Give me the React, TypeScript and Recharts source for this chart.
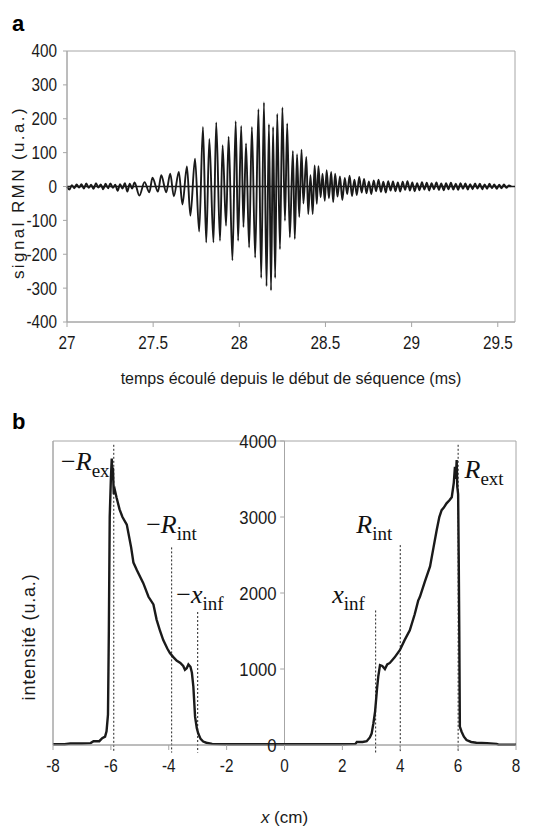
import React from 'react';
import { LineChart, Line, XAxis, YAxis, ReferenceLine, ReferenceArea, ReferenceDot } from 'recharts';

// panel a: NMR echo signal
const echoTime = [
  27.0, 27.014, 27.028, 27.042, 27.056, 27.07, 27.084, 27.098, 27.112, 27.126,
  27.14, 27.154, 27.168, 27.182, 27.196, 27.21, 27.224, 27.238, 27.252, 27.266,
  27.28, 27.294, 27.308, 27.322, 27.336, 27.35, 27.364, 27.378, 27.392, 27.42,
  27.45, 27.478, 27.496, 27.528, 27.547, 27.576, 27.599, 27.62, 27.649, 27.67,
  27.696, 27.716, 27.743, 27.767, 27.789, 27.808, 27.826, 27.85, 27.866, 27.888,
  27.903, 27.923, 27.938, 27.96, 27.979, 27.993, 28.011, 28.024, 28.039, 28.057,
  28.073, 28.092, 28.111, 28.127, 28.143, 28.158, 28.172, 28.184, 28.196, 28.208,
  28.22, 28.236, 28.25, 28.265, 28.278, 28.293, 28.311, 28.322, 28.335, 28.348,
  28.361, 28.372, 28.389, 28.4, 28.413, 28.426, 28.437, 28.45, 28.459, 28.472,
  28.483, 28.496, 28.507, 28.52, 28.533, 28.545, 28.556, 28.57, 28.584, 28.598,
  28.612, 28.626, 28.64, 28.654, 28.668, 28.682, 28.696, 28.71, 28.724, 28.738,
  28.752, 28.766, 28.78, 28.794, 28.808, 28.822, 28.836, 28.85, 28.864, 28.878,
  28.892, 28.906, 28.92, 28.934, 28.948, 28.962, 28.976, 28.99, 29.004, 29.018,
  29.032, 29.046, 29.06, 29.074, 29.088, 29.102, 29.116, 29.13, 29.144, 29.158,
  29.172, 29.186, 29.2, 29.214, 29.228, 29.242, 29.256, 29.27, 29.284, 29.298,
  29.312, 29.326, 29.34, 29.354, 29.368, 29.382, 29.396, 29.41, 29.424, 29.438,
  29.452, 29.466, 29.48, 29.494, 29.508, 29.522, 29.536, 29.55, 29.564, 29.578,
];
const echoSignal = [
  0, -9, 4, -5, 6, -3, 7, -6, 9, -4,
  5, -7, 10, -3, 6, -8, 8, -5, 9, -4,
  5, -13, 7, -6, 10, -15, 8, -6, 12, -27,
  13, -17, 26, -15, 33, -17, 38, -29, 43, -53,
  59, -86, 82, -133, 176, -165, 140, -165, 189, -160,
  122, -116, 147, -218, 193, -160, 179, -120, 127, -180,
  176, -210, 228, -270, 248, -294, 184, -307, 176, -270,
  214, -185, 233, -101, 186, -150, 105, -155, 95, -90,
  109, -50, 87, -81, 33, -81, 62, -51, 60, -32,
  38, -42, 48, -35, 43, -46, 38, -30, 30, -40,
  25, -22, 32, -28, 20, -25, 28, -18, 22, -20,
  15, -22, 18, -14, 20, -16, 14, -18, 16, -12,
  15, -14, 12, -15, 14, -10, 16, -12, 12, -14,
  10, -11, 13, -9, 11, -12, 10, -8, 12, -10,
  9, -11, 10, -8, 11, -9, 8, -10, 10, -7,
  9, -9, 7, -8, 9, -6, 8, -8, 6, -7,
  8, -5, 6, -7, 5, -5, 6, -4, 3, 0,
];
const echoTicksX = [27, 27.5, 28, 28.5, 29, 29.5];
const echoTicksY = [-400, -300, -200, -100, 0, 100, 200, 300, 400];

// panel b: intensity profile
const profileX = [
  -8, -7.6, -7.4, -7, -6.7, -6.6, -6.4, -6.3, -6.2, -6.15,
  -6.1, -6.07, -6.04, -6, -5.97, -5.95, -5.93, -5.9, -5.86, -5.8,
  -5.7, -5.6, -5.45, -5.3, -5.22, -5.1, -4.88, -4.7, -4.53, -4.42,
  -4.3, -4.19, -4.05, -3.96, -3.85, -3.73, -3.6, -3.5, -3.44, -3.38,
  -3.32, -3.25, -3.2, -3.15, -3.09, -3.03, -2.98, -2.9, -2.81, -2.7,
  -2.5, -2, -1, 0, 1, 2, 2.45, 2.5, 2.7, 2.84,
  2.95, 3.01, 3.07, 3.13, 3.2, 3.24, 3.3, 3.38, 3.47, 3.55,
  3.64, 3.8, 3.99, 4.15, 4.33, 4.5, 4.62, 4.68, 4.85, 5.03,
  5.15, 5.26, 5.35, 5.43, 5.5, 5.6, 5.7, 5.78, 5.85, 5.89,
  5.92, 5.95, 5.97, 6, 6.02, 6.04, 6.06, 6.12, 6.2, 6.29,
  6.45, 6.63, 7, 7.33, 7.4, 8,
];
const profileIntensity = [
  10, 10, 20, 20, 25, 50, 50, 90, 110, 180,
  400, 1500, 3000, 3500, 3770, 3500, 3650, 3300, 3350, 3250,
  3100, 3000, 2900, 2600, 2400, 2300, 2130, 1950, 1850, 1650,
  1500, 1380, 1270, 1210, 1160, 1110, 1080, 1040, 990, 1010,
  1060, 1030, 950, 770, 370, 220, 150, 80, 45, 30,
  15, 10, 10, 10, 10, 10, 15, 40, 40, 50,
  100, 150, 280, 440, 750, 900, 1050, 1040, 1000, 1060,
  1080, 1150, 1250, 1380, 1510, 1720, 1900, 1950, 2150, 2350,
  2600, 2830, 3000, 3090, 3120, 3180, 3220, 3260, 3450, 3660,
  3500, 3750, 3400, 3300, 2500, 1500, 240, 175, 110, 65,
  40, 30, 25, 15, 5, 5,
];
const profileTicksX = [-8, -6, -4, -2, 0, 2, 4, 6, 8];
const profileTicksY = [0, 1000, 2000, 3000, 4000];

// dotted markers (position, upper end)
const markerX = [-5.9, -3.9, -3.0, 3.15, 4.0, 6.0];
const markerTop = [3950, 2600, 1750, 1770, 2630, 3950];
const markerBottom = -100;

const symbolMain = ['\u2212R', '\u2212R', '\u2212x', 'R', 'x', 'R'];
const symbolSub = ['ex', 'int', 'inf', 'int', 'inf', 'ext'];
const symbolX = [-7.72, -4.78, -3.74, 2.48, 1.65, 6.22];
const symbolY = [3620, 2790, 1870, 2790, 1870, 3510];

const echoData = echoTime.map((t, i) => ({ t, v: echoSignal[i] }));
const profileData = profileX.map((x, i) => ({ x, v: profileIntensity[i] }));

const SANS = "'Liberation Sans', Arial, sans-serif";
const SERIF = "'Liberation Serif', 'Times New Roman', serif";
const AXIS = '#a6a6a6';
const INK = '#1a1a1a';

const XTick = (p: any) => (
  <text
    transform={`translate(${p.x},${p.y}) scale(0.85,1)`}
    textAnchor="middle"
    dy="0.71em"
    fontFamily={SANS}
    fontSize={18}
    fill={INK}
  >
    {p.payload.value}
  </text>
);

const YTick = (p: any) => (
  <text
    transform={`translate(${p.x},${p.y}) scale(0.85,1)`}
    textAnchor="end"
    dy="0.36em"
    fontFamily={SANS}
    fontSize={18}
    fill={INK}
  >
    {p.payload.value}
  </text>
);

const panelLetter = (top: number): React.CSSProperties => ({
  position: 'absolute',
  left: 12,
  top,
  fontFamily: SANS,
  fontWeight: 700,
  fontSize: 22,
  lineHeight: 1,
  color: '#000',
});

export default function App() {
  return (
    <div style={{ position: 'absolute', left: 0, top: 0, width: 544, height: 828, background: '#fff' }}>
      <div style={panelLetter(13)}>a</div>
      <div style={panelLetter(411)}>b</div>

      <div style={{ position: 'absolute', left: 0, top: 0 }}>
        <LineChart width={544} height={400} data={echoData} margin={{ top: 51, right: 29, bottom: 48, left: 0 }}>
          <XAxis
            dataKey="t"
            type="number"
            domain={[27, 29.6]}
            ticks={echoTicksX}
            tick={<XTick />}
            tickSize={5}
            tickMargin={9}
            stroke={AXIS}
            height={30}
            label={(props: any) => (
              <text
                x={props.viewBox.x + props.viewBox.width / 2}
                y={props.viewBox.y + 62}
                textAnchor="middle"
                fontFamily={SANS}
                fontSize={16}
                fill={INK}
              >
                temps écoulé depuis le début de séquence (ms)
              </text>
            )}
          />
          <YAxis
            type="number"
            domain={[-400, 400]}
            ticks={echoTicksY}
            tick={<YTick />}
            tickSize={4}
            tickMargin={6}
            stroke={AXIS}
            width={67}
            label={(props: any) => {
              const cx = props.viewBox.x + 18;
              const cy = props.viewBox.y + props.viewBox.height / 2 + 6;
              return (
                <text
                  x={cx}
                  y={cy}
                  transform={`rotate(-90 ${cx} ${cy})`}
                  textAnchor="middle"
                  dominantBaseline="central"
                  fontFamily={SANS}
                  fontSize={17}
                  letterSpacing={2.4}
                  fill={INK}
                >
                  signal RMN (u.a.)
                </text>
              );
            }}
          />
          <ReferenceArea x1={27} x2={29.6} y1={-400} y2={400} fill="none" stroke={AXIS} strokeWidth={1} />
          <Line
            type="monotone"
            dataKey="v"
            stroke={INK}
            strokeWidth={1.9}
            dot={false}
            isAnimationActive={false}
          />
          <ReferenceLine y={0} stroke={INK} strokeWidth={1.4} />
        </LineChart>
      </div>

      <div style={{ position: 'absolute', left: 0, top: 400 }}>
        <LineChart width={544} height={428} data={profileData} margin={{ top: 41, right: 28, bottom: 53, left: 0 }}>
          <XAxis
            dataKey="x"
            type="number"
            domain={[-8, 8]}
            ticks={profileTicksX}
            tick={<XTick />}
            tickSize={5}
            tickMargin={9}
            stroke={AXIS}
            height={30}
            label={(props: any) => (
              <text
                x={props.viewBox.x + props.viewBox.width / 2}
                y={props.viewBox.y + 78}
                textAnchor="middle"
                fontFamily={SANS}
                fontSize={17}
                fill={INK}
              >
                <tspan fontStyle="italic">x</tspan>
                <tspan>{'  (cm)'}</tspan>
              </text>
            )}
          />
          <YAxis
            type="number"
            domain={[0, 4000]}
            ticks={profileTicksY}
            tick={false}
            tickLine={false}
            stroke={AXIS}
            width={53}
            label={(props: any) => {
              const cx = props.viewBox.x + 29;
              const cy = props.viewBox.y + props.viewBox.height / 2 + 44;
              return (
                <text
                  x={cx}
                  y={cy}
                  transform={`rotate(-90 ${cx} ${cy})`}
                  textAnchor="middle"
                  dominantBaseline="central"
                  fontFamily={SANS}
                  fontSize={18}
                  letterSpacing={0.8}
                  fill={INK}
                >
                  intensité (u.a.)
                </text>
              );
            }}
          />
          <ReferenceArea x1={-8} x2={8} y1={0} y2={4000} fill="none" stroke={AXIS} strokeWidth={1} />
          <ReferenceLine x={0} stroke={AXIS} strokeWidth={1} />
          {profileTicksY.map((v) => (
            <ReferenceLine
              key={`tk${v}`}
              segment={[{ x: -0.15, y: v }, { x: 0, y: v }]}
              stroke={AXIS}
              ifOverflow="visible"
            />
          ))}
          {profileTicksY.map((v) => (
            <ReferenceDot
              key={`tl${v}`}
              x={0}
              y={v}
              r={0}
              fill="none"
              stroke="none"
              ifOverflow="visible"
              label={(props: any) => (
                <text
                  transform={`translate(${props.viewBox.x - 8},${props.viewBox.y}) scale(0.88,1)`}
                  textAnchor="end"
                  dy="0.36em"
                  fontFamily={SANS}
                  fontSize={19}
                  fill={INK}
                >
                  {v}
                </text>
              )}
            />
          ))}
          {markerX.map((mx, i) => (
            <ReferenceLine
              key={`m${i}`}
              segment={[{ x: mx, y: markerTop[i] }, { x: mx, y: markerBottom }]}
              stroke="#222"
              strokeWidth={1}
              strokeDasharray="2 2"
              ifOverflow="visible"
            />
          ))}
          <Line
            type="linear"
            dataKey="v"
            stroke={INK}
            strokeWidth={2.4}
            dot={false}
            isAnimationActive={false}
          />
          {symbolMain.map((m, i) => (
            <ReferenceDot
              key={`s${i}`}
              x={symbolX[i]}
              y={symbolY[i]}
              r={0}
              fill="none"
              stroke="none"
              ifOverflow="visible"
              label={(props: any) => (
                <text x={props.viewBox.x} y={props.viewBox.y} fontFamily={SERIF} fontSize={26} fill="#111">
                  <tspan>{m.startsWith('\u2212') ? '\u2212' : ''}</tspan>
                  <tspan fontStyle="italic">{m.replace('\u2212', '')}</tspan>
                  <tspan fontSize={19} dy={7}>{symbolSub[i]}</tspan>
                </text>
              )}
            />
          ))}
        </LineChart>
      </div>
    </div>
  );
}
